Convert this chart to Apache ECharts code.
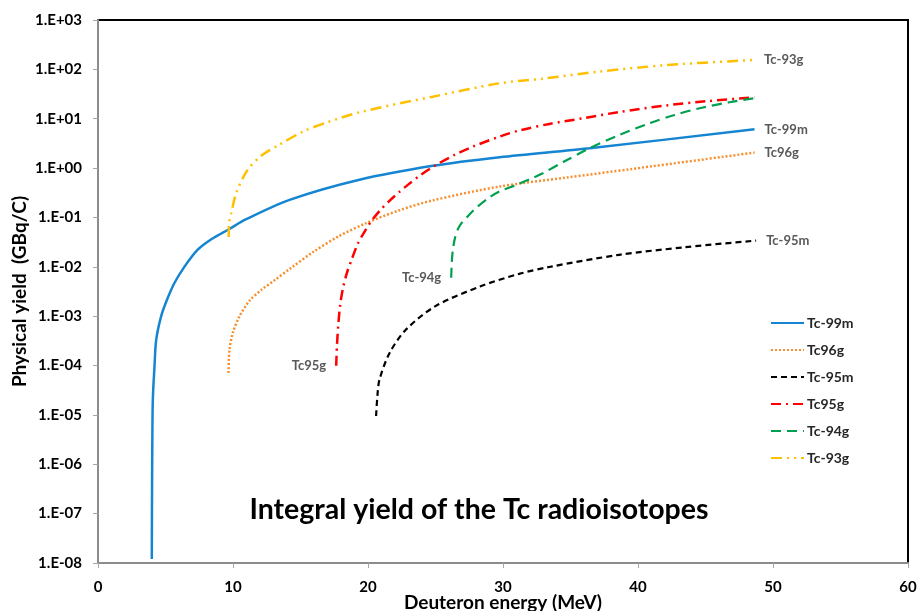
<!DOCTYPE html>
<html>
<head>
<meta charset="utf-8">
<script src="https://cdn.jsdelivr.net/npm/echarts@6/dist/echarts.min.js"></script>
<style>
  html, body { margin: 0; padding: 0; background: #ffffff; }
  #chart { width: 919px; height: 611px; }
</style>
</head>
<body>
<div id="chart"></div>
<script>
// Integral yield (GBq/C) versus deuteron energy (MeV), one [energy, yield] list per isotope
const tc99m = [[3.985,1.2e-8],[4.0,1.9e-7],[4.02,2e-6],[4.06,2e-5],[4.185,9.6e-5],[4.31,3.3e-4],[4.68,1e-3],[5.11,2.15e-3],[5.67,4.75e-3],[6.41,0.0101],[7.37,0.022],[8.48,0.0374],[9.67,0.057],[10.98,0.092],[14.19,0.227],[19.37,0.58],[24.8,1.11],[29.74,1.66],[36.41,2.53],[48.63,6.1]];
const tc96g = [[9.667,7.1e-5],[9.74,2.09e-4],[9.985,4.6e-4],[10.48,9.9e-4],[11.22,2.05e-3],[12.11,3.42e-3],[13.07,5.33e-3],[14.31,9.55e-3],[15.91,0.0197],[17.89,0.0425],[19.87,0.0767],[22.33,0.14],[24.8,0.222],[29.74,0.423],[34.68,0.64],[39.6,0.964],[48.63,2.06]];
const tc95m = [[20.6,9.5e-6],[20.7,2.5e-5],[20.85,5.2e-5],[21.6,1.8e-4],[22.8,5.3e-4],[25.0,1.6e-3],[28.3,4e-3],[31.2,7.2e-3],[33.4,9.9e-3],[38.6,0.0175],[43.5,0.025],[48.75,0.034]];
const tc95g = [[17.644,9.9e-5],[17.704,2.64e-4],[17.8,6.7e-4],[17.94,1.7e-3],[18.15,3.76e-3],[18.44,7.57e-3],[18.81,0.0145],[19.24,0.0292],[19.74,0.0512],[20.26,0.0853],[20.93,0.1426],[21.59,0.217],[22.33,0.33],[22.95,0.457],[23.81,0.695],[24.93,1.11],[26.41,1.85],[27.76,2.72],[29.74,4.34],[31.22,5.8],[33.44,7.85],[35.91,10.2],[38.63,13.7],[42.09,18.6],[45.3,22.9],[48.63,27.2]];
const tc94g = [[26.163,5.99e-3],[26.207,0.0126],[26.296,0.0231],[26.444,0.0386],[26.667,0.0588],[26.963,0.0796],[27.274,0.098],[27.889,0.146],[29.0,0.255],[29.74,0.338],[30.98,0.457],[31.96,0.59],[32.95,0.789],[34.56,1.37],[36.41,2.53],[38.63,4.7],[40.85,8.1],[42.7,11.9],[44.56,16.3],[46.78,21.6],[48.63,26.0]];
const tc93g = [[9.68,0.04],[9.72,0.08],[9.86,0.12],[10.24,0.31],[11.0,0.85],[12.0,1.7],[13.4,2.95],[15.2,5.5],[17.0,8.5],[19.6,14],[24.8,28],[29.7,52],[33.0,65],[37.1,90],[42.1,122],[48.6,155]];

const seriesNames = ['Tc-99m', 'Tc96g', 'Tc-95m', 'Tc95g', 'Tc-94g', 'Tc-93g'];
const yTickLabels = ['1.E-08','1.E-07','1.E-06','1.E-05','1.E-04','1.E-03','1.E-02','1.E-01','1.E+00','1.E+01','1.E+02','1.E+03'];
const xTickValues = [0, 10, 20, 30, 40, 50, 60];

const FONT = 'Lato, "Open Sans", sans-serif';
const labelGrey = '#595959';

function curve(name, data, color, width, dash, labelAt) {
  const s = {
    name: name,
    type: 'line',
    data: data,
    symbol: 'none',
    showSymbol: false,
    smooth: 0.3,
    lineStyle: { color: color, width: width, type: dash, cap: 'butt' },
    itemStyle: { color: color },
    emphasis: { disabled: true },
    z: 3
  };
  const lbl = { color: labelGrey, fontFamily: FONT, fontWeight: 'bold', fontSize: 13 };
  if (labelAt === 'end') {
    s.endLabel = Object.assign({ show: true, formatter: name, distance: 10 }, lbl);
  } else if (labelAt === 'start') {
    s.markPoint = {
      symbol: 'circle', symbolSize: 0, silent: true,
      data: [{ coord: data[0], label: Object.assign({ show: true, position: 'left', distance: 10, formatter: name }, lbl) }]
    };
  }
  return s;
}

const chart = echarts.init(document.getElementById('chart'), null, { renderer: 'canvas' });

chart.setOption({
  animation: false,
  backgroundColor: '#ffffff',
  textStyle: { fontFamily: FONT },
  grid: {
    left: 98, top: 20, width: 810, height: 543,
    outerBoundsMode: 'none',
    containLabel: false,
    show: true, borderColor: '#000000', borderWidth: 2, backgroundColor: 'transparent'
  },
  legend: {
    orient: 'vertical',
    left: 770, top: 316,
    padding: 0,
    itemWidth: 33, itemHeight: 12, itemGap: 13,
    data: seriesNames,
    itemStyle: { color: 'transparent', borderWidth: 0, opacity: 0 },
    textStyle: { color: '#262626', fontFamily: FONT, fontWeight: 'bold', fontSize: 14, padding: [0, 0, 0, -2] },
    selectedMode: false
  },
  xAxis: {
    type: 'value',
    min: xTickValues[0], max: xTickValues[xTickValues.length - 1], interval: 10,
    name: 'Deuteron energy (MeV)',
    nameLocation: 'middle', nameGap: 30,
    nameMoveOverlap: false,
    nameTextStyle: { color: '#000', fontFamily: FONT, fontWeight: 'bold', fontSize: 19 },
    axisLine: { show: true, lineStyle: { color: '#8c8c8c', width: 2 } },
    axisTick: { show: true, length: 5, lineStyle: { color: '#a6a6a6', width: 1 } },
    axisLabel: { color: '#000', fontFamily: FONT, fontWeight: 'bold', fontSize: 15, margin: 17 },
    splitLine: { show: false },
    z: 5
  },
  yAxis: {
    type: 'log',
    logBase: 10,
    min: 1e-8, max: 1e3,
    interval: 1,
    splitNumber: 11,
    name: 'Physical yield  (GBq/C)',
    nameLocation: 'middle', nameGap: 69, nameRotate: 90,
    nameMoveOverlap: false,
    nameTextStyle: { color: '#000', fontFamily: FONT, fontWeight: 'bold', fontSize: 19 },
    axisLine: { show: true, lineStyle: { color: '#8c8c8c', width: 2 } },
    axisTick: { show: true, length: 5, lineStyle: { color: '#a6a6a6', width: 1 } },
    axisLabel: {
      color: '#000', fontFamily: FONT, fontWeight: 'bold', fontSize: 15, margin: 16,
      formatter: function (v) { return yTickLabels[Math.round(Math.log10(v)) + 8]; }
    },
    minorTick: { show: false },
    splitLine: { show: false },
    z: 5
  },
  graphic: [{
    type: 'text',
    x: 479, y: 510,
    z: 10,
    style: {
      text: 'Integral yield of the Tc radioisotopes',
      align: 'center', verticalAlign: 'middle',
      fill: '#000', fontFamily: FONT, fontWeight: 'bold', fontSize: 28.5
    }
  }],
  series: [
    curve('Tc-99m', tc99m, '#1585d2', 2.5, 'solid', 'end'),
    curve('Tc96g', tc96g, '#f78f2e', 2.5, [2, 2], 'end'),
    curve('Tc-95m', tc95m, '#000000', 2.2, [6, 4], 'end'),
    curve('Tc95g', tc95g, '#ff0000', 2.5, [10, 5, 2, 5], 'start'),
    curve('Tc-94g', tc94g, '#00a050', 2.2, [10, 6], 'start'),
    curve('Tc-93g', tc93g, '#ffc000', 2.5, [11, 5, 2, 5, 2, 5], 'end')
  ]
});
</script>
</body>
</html>
